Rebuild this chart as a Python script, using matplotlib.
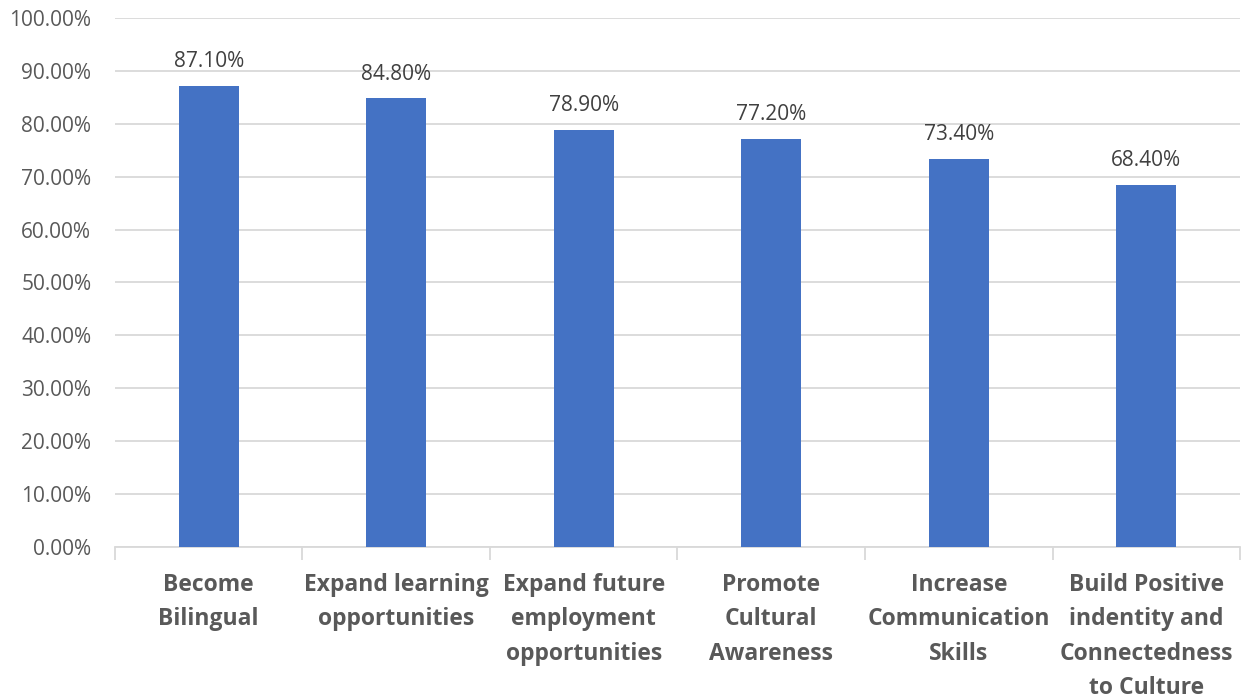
import matplotlib
matplotlib.use('Agg')
import matplotlib.pyplot as plt
import numpy as np
from matplotlib.ticker import FixedLocator, PercentFormatter

categories = ['Become\nBilingual', 'Expand learning\nopportunities', 'Expand future\nemployment\nopportunities',
              'Promote\nCultural\nAwareness', 'Increase\nCommunication\nSkills',
              'Build Positive\nindentity and\nConnectedness\nto Culture']
values = [87.10, 84.80, 78.90, 77.20, 73.40, 68.40]

plt.rcParams['font.family'] = ['Open Sans', 'DejaVu Sans']
grey = '#595959'

fig = plt.figure(figsize=(12.47, 7.0), dpi=100)
ax = fig.add_axes([0.0922, 0.2186, 0.9022, 0.7557])

x = np.arange(len(values))
bars = ax.bar(x, values, width=0.32, color='#4472C4', zorder=3)
for xi, v in zip(x, values):
    ax.text(xi, v + 2.6, '{0:.2f}%'.format(v), ha='center', va='bottom', fontsize=15, color='#404040')

ax.set_xlim(-0.5, len(values) - 0.5)
ax.set_ylim(0, 100)
ax.set_yticks(np.arange(0, 101, 10))
ax.yaxis.set_major_formatter(PercentFormatter(decimals=2))
ax.grid(axis='y', color='#d9d9d9', linewidth=1.3, zorder=0)

# category labels sit between the boundary ticks
ax.xaxis.set_major_locator(FixedLocator(np.arange(-0.5, len(values), 1.0)))
ax.xaxis.set_minor_locator(FixedLocator(x))
ax.set_xticklabels([''] * (len(values) + 1))
ax.set_xticklabels(categories, minor=True, fontsize=16.5, fontweight='bold', color=grey, linespacing=1.56, va='top')
ax.tick_params(axis='x', which='major', length=9, color='#d9d9d9', width=1.3)
ax.tick_params(axis='x', which='minor', length=0, pad=19)
ax.tick_params(axis='y', length=0, labelsize=15, labelcolor=grey, pad=17)

for s in ['top', 'right', 'left']:
    ax.spines[s].set_visible(False)
ax.spines['bottom'].set_color('#d9d9d9')
ax.spines['bottom'].set_linewidth(1.3)

fig.savefig('out.png', dpi=100)
